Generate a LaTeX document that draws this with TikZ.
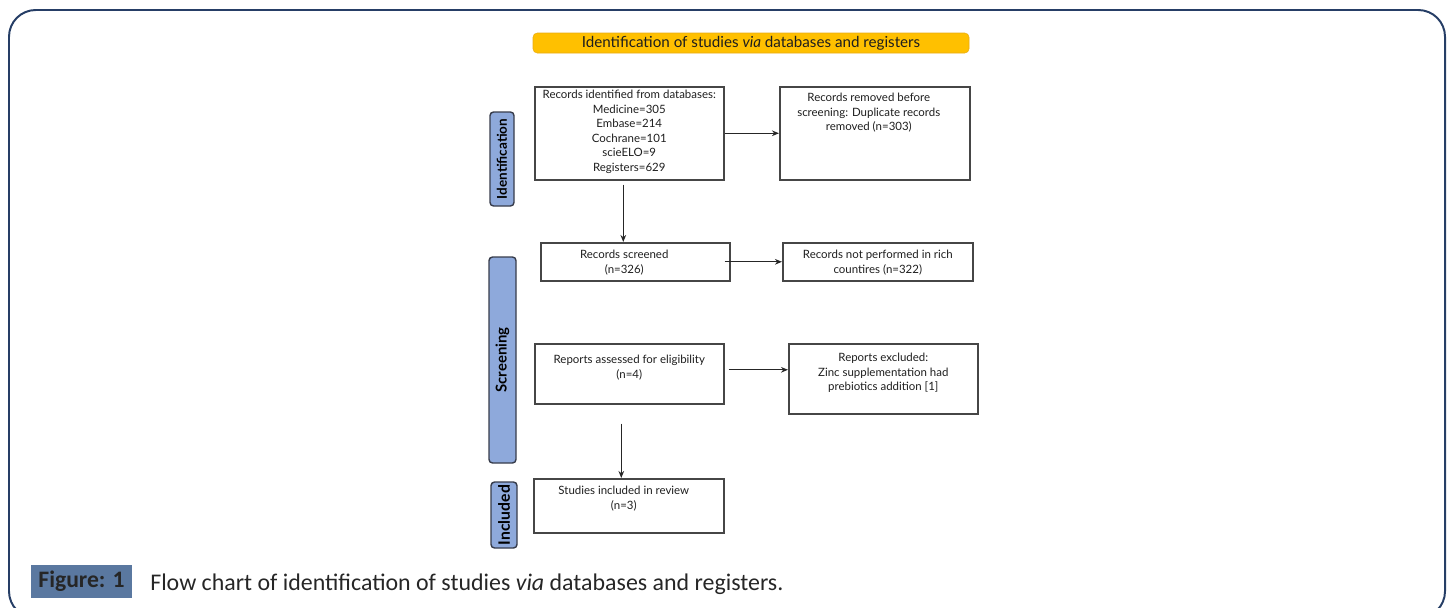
\documentclass[tikz,border=0pt]{standalone}
\usepackage{fontspec}
\setmainfont{Lato}
\newfontfamily\capfont{Carlito}
\usetikzlibrary{arrows.meta, positioning, calc}
\definecolor{framenavy}{RGB}{38,62,102}
\definecolor{titlegold}{RGB}{255,192,0}
\definecolor{titleedge}{RGB}{232,172,20}
\definecolor{phaseblue}{RGB}{142,169,219}
\definecolor{phaseedge}{RGB}{55,60,75}
\definecolor{boxgray}{RGB}{70,70,70}
\definecolor{capblue}{RGB}{90,120,160}
\definecolor{txtdark}{RGB}{30,30,30}
\def\pu{0.025cm}
\tikzset{
  recbox/.style={rectangle, draw=boxgray, line width=1.1pt, inner sep=0pt, anchor=north west},
  rectxt/.style={anchor=north, align=center, inner sep=0pt, font=\fontsize{8.15}{10.3}\selectfont, text=txtdark},
  phase/.style={rectangle, draw=phaseedge, fill=phaseblue, rounded corners=2.5pt, line width=1pt, rotate=90, inner sep=0pt, font=\bfseries},
  arrow/.style={-{Stealth[length=5pt, width=4pt]}, line width=0.9pt, color=black!85}
}

\begin{document}
\begin{tikzpicture}[x=0.025cm, y=-0.025cm]
  \useasboundingbox (0,0) rectangle (1451,607);
  \clip (0,0) rectangle (1451,607);

  % Frame
  \draw[framenavy, line width=1.4pt, rounded corners=19pt] (9,10) rectangle (1445,618);

  % Title bar
  \node[rectangle, fill=titlegold, draw=titleedge, rounded corners=3pt,
    minimum width=436*\pu, minimum height=20*\pu, inner sep=0pt,
    font=\fontsize{10.8}{12}\selectfont, text=txtdark] (title) at (751,43)
    {Identification of studies \textit{via} databases and registers};

  % Phase labels
  \node[phase, minimum width=94*\pu, minimum height=24*\pu, font=\bfseries\fontsize{9.6}{10}\selectfont] (ident) at (502,159) {Identification};
  \node[phase, minimum width=206*\pu, minimum height=27*\pu, font=\bfseries\fontsize{10.6}{11}\selectfont] (screen) at (502.5,360) {Screening};
  \node[phase, minimum width=66*\pu, minimum height=26*\pu, font=\bfseries\fontsize{11.2}{12}\selectfont] (incl) at (504,515) {Included};

  % Boxes
  \node[recbox, minimum width=189*\pu, minimum height=93*\pu] (b1) at (534,86) {};
  \node[recbox, minimum width=190*\pu, minimum height=93*\pu] (b2) at (779,86) {};
  \node[recbox, minimum width=189*\pu, minimum height=38*\pu] (b3) at (540,242) {};
  \node[recbox, minimum width=190*\pu, minimum height=38*\pu] (b4) at (782,242) {};
  \node[recbox, minimum width=189*\pu, minimum height=60*\pu] (b5) at (534,343) {};
  \node[recbox, minimum width=189*\pu, minimum height=70*\pu] (b6) at (788,343) {};
  \node[recbox, minimum width=190*\pu, minimum height=54*\pu] (b7) at (533,478) {};

  % Box texts
  \node[rectxt] (t1) at ($(b1.north)+(0,4)$) {Records identified from databases:\\Medicine=305\\Embase=214\\Cochrane=101\\scieELO=9\\Registers=629};
  \node[rectxt] (t2) at ($(b2.north)+(-6,7)$) {Records removed before\\screening: Duplicate records\\removed (n=303)};
  \node[rectxt] (t3) at ($(b3.north)+(-11,8)$) {Records screened\\(n=326)};
  \node[rectxt] (t4) at ($(b4.north)+(0,8)$) {Records not performed in rich\\countires (n=322)};
  \node[rectxt] (t5) at ($(b5.north)+(0,12)$) {Reports assessed for eligibility\\(n=4)};
  \node[rectxt] (t6) at ($(b6.north)+(0,10)$) {Reports excluded:\\Zinc supplementation had\\prebiotics addition [1]};
  \node[rectxt] (t7) at ($(b7.north)+(-5,8)$) {Studies included in review\\(n=3)};

  % Connections
  \draw[arrow] (b1.east) -- (b2.west);
  \coordinate (d1) at ($(b1.south)+(-6,4)$);
  \draw[arrow] (d1) -- (d1 |- b3.north);
  \draw[arrow] ($(b3.east)+(-6,0)$) -- (b4.west);
  \coordinate (d2) at ($(b5.east)+(4,-4)$);
  \draw[arrow] (d2) -- (d2 -| b6.west);
  \coordinate (d3) at ($(b5.south)+(-8,19)$);
  \draw[arrow] (d3) -- (d3 |- b7.north);

  % Caption
  \node[rectangle, fill=capblue, minimum width=101*\pu, minimum height=33*\pu, inner sep=0pt,
    font=\capfont\bfseries\fontsize{16.8}{18}\selectfont, text=black!85] (figtag) at (81.5,581.5) {Figure: 1};
  \node[anchor=base west, inner sep=0pt, font=\capfont\fontsize{17}{19}\selectfont, text=black!85] (figcap) at (150,590)
    {Flow chart of identification of studies \textit{via} databases and registers.};
\end{tikzpicture}
\end{document}
